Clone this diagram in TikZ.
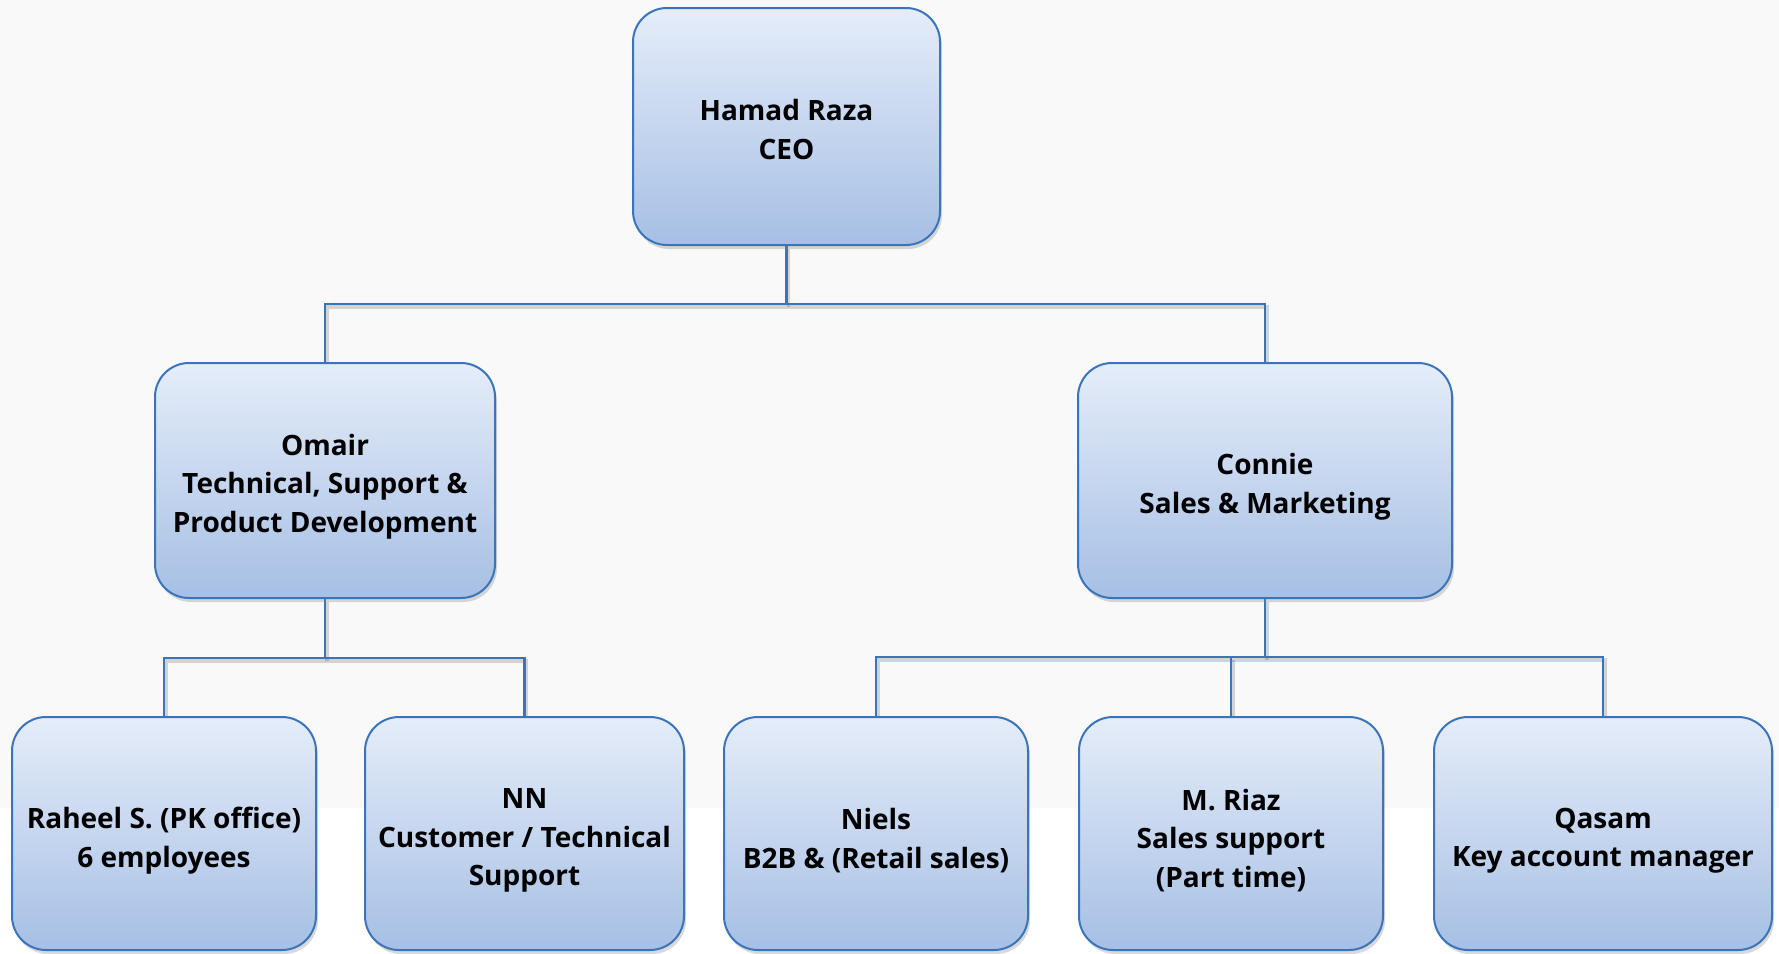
\documentclass[tikz,border=0pt]{standalone}
\usepackage{fontspec}
\setmainfont{Open Sans}
\usetikzlibrary{shadows}
\definecolor{boxborder}{RGB}{58,117,187}
\definecolor{boxtop}{RGB}{229,237,249}
\definecolor{boxbot}{RGB}{166,191,228}
\definecolor{linecol}{RGB}{58,117,187}
\definecolor{bgtop}{RGB}{249,249,249}
\newcommand\boxfont{\fontsize{28}{38.5}\selectfont\bfseries}
\pgfdeclarelayer{back}
\pgfdeclarelayer{lines}
\pgfsetlayers{back,lines,main}
\tikzset{
  box/.style={draw=boxborder, line width=2pt, rounded corners=34pt,
    top color=boxtop, bottom color=boxbot, inner sep=0pt,
    drop shadow={opacity=0.3, shadow xshift=2pt, shadow yshift=-4pt}},
  boxtext/.style={align=center, font=\boxfont, text=black, inner sep=0pt},
  conn/.style={draw=linecol, line width=2.5pt,
    preaction={draw=black, opacity=0.15, line width=3.5pt,
      transform canvas={xshift=2pt, yshift=-3pt}}}
}
\begin{document}
\begin{tikzpicture}[x=1pt, y=-1pt]
\useasboundingbox (0,0) rectangle (1779,953);
\begin{pgfonlayer}{back}
  \fill[white] (0,0) rectangle (1779,953);
  \fill[bgtop] (0,0) rectangle (1779,808);
\end{pgfonlayer}

\node[box, minimum width=307pt, minimum height=237pt] (ceo) at (786.5,126.5) {};
\node[box, minimum width=340pt, minimum height=235pt] (omair) at (325,480.5) {};
\node[box, minimum width=374pt, minimum height=235pt] (connie) at (1265,480.5) {};
\node[box, minimum width=304pt, minimum height=233pt] (raheel) at (164,833.5) {};
\node[box, minimum width=319pt, minimum height=233pt] (nn) at (524.5,833.5) {};
\node[box, minimum width=304pt, minimum height=233pt] (niels) at (876,833.5) {};
\node[box, minimum width=304pt, minimum height=233pt] (riaz) at (1231,833.5) {};
\node[box, minimum width=338pt, minimum height=233pt] (qasam) at (1603,833.5) {};

\node[boxtext] (ceo-t) at ([yshift=-3pt]ceo.center) {Hamad Raza\\CEO};
\node[boxtext] (omair-t) at ([yshift=-6pt]omair.center) {Omair\\Technical, Support \&\\Product Development};
\node[boxtext] (connie-t) at ([yshift=-6pt]connie.center) {Connie\\Sales \& Marketing};
\node[boxtext] (raheel-t) at ([yshift=-7pt]raheel.center) {Raheel S. (PK office)\\6 employees};
\node[boxtext] (nn-t) at ([yshift=-7pt]nn.center) {NN\\Customer / Technical\\Support};
\node[boxtext] (niels-t) at ([yshift=-7pt]niels.center) {Niels\\B2B \& (Retail sales)};
\node[boxtext] (riaz-t) at ([yshift=-7pt]riaz.center) {M. Riaz\\Sales support\\(Part time)};
\node[boxtext] (qasam-t) at ([yshift=-7pt]qasam.center) {Qasam\\Key account manager};

\coordinate (j0) at (786.5,304);
\coordinate (j1) at (325,658);
\coordinate (j2) at (1265,657);

\begin{pgfonlayer}{lines}
  \draw[conn] (ceo.south) -- (j0);
  \draw[conn] (omair.north) |- (j0) -| (connie.north);
  \draw[conn] (omair.south) -- (j1);
  \draw[conn] (raheel.north) |- (j1) -| (nn.north);
  \draw[conn] (connie.south) -- (j2);
  \draw[conn] (niels.north) |- (j2) -| (qasam.north);
  \draw[conn] (riaz.north) -- (riaz.north |- j2);
\end{pgfonlayer}
\end{tikzpicture}
\end{document}
